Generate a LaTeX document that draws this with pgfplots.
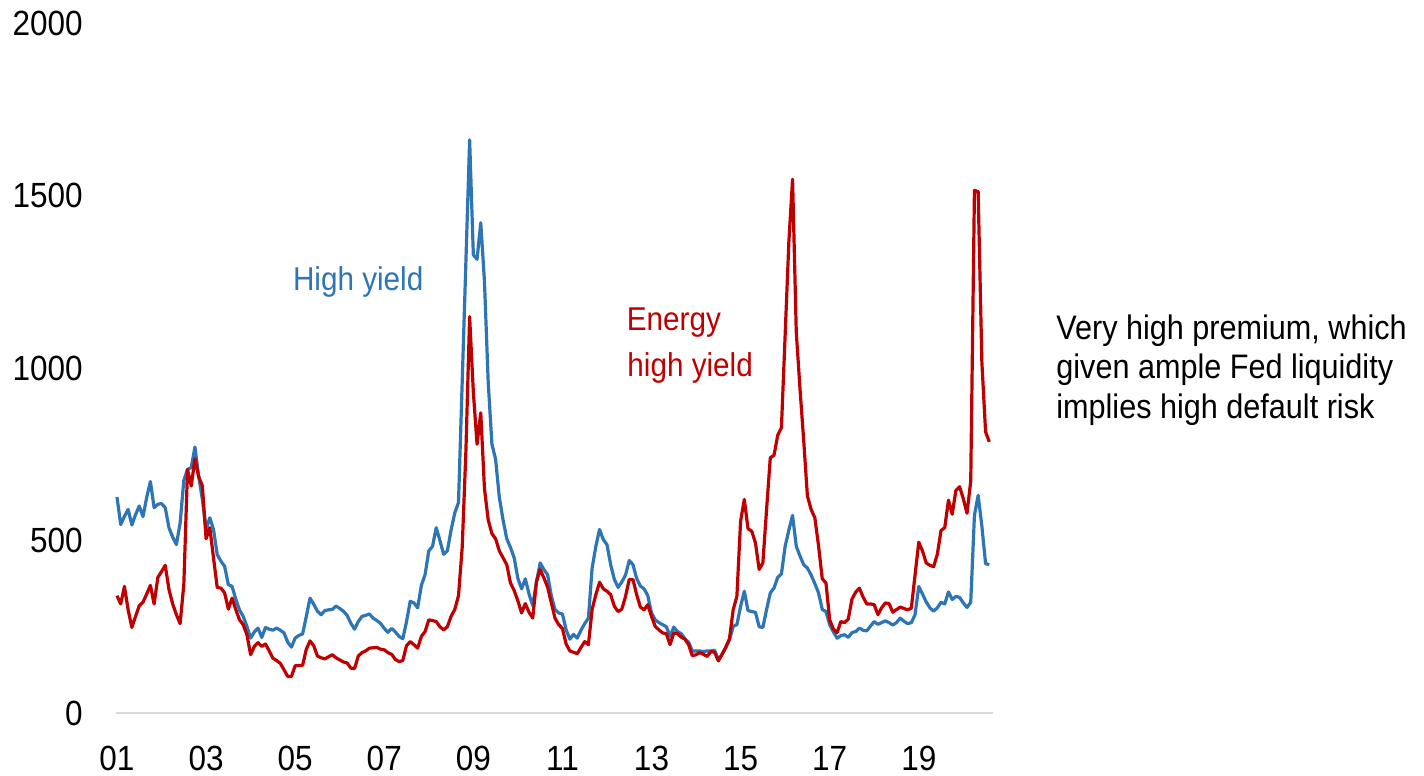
\documentclass[border=0pt]{standalone}
\usepackage{pgfplots}
\pgfplotsset{compat=1.18}
\usepackage{pgfplotstable}
\usepackage{fontspec}
\setmainfont{Liberation Sans}[FakeStretch=0.9]

\definecolor{hyblue}{RGB}{46,117,182}
\definecolor{enred}{RGB}{192,0,0}
\definecolor{axisgray}{RGB}{217,217,217}

% Monthly spreads (bp), month 0 = Jan 2001
% hy = high yield, ehy = energy high yield
\pgfplotstableread{
m hy ehy
0 626 340
1 546 316
2 570 367
3 590 299
4 545 248
5 575 280
6 600 311
7 569 321
8 625 345
9 671 370
10 595 316
11 605 393
12 607 410
13 595 428
14 537 358
15 510 316
16 488 285
17 550 259
18 674 372
19 706 706
20 711 658
21 771 737
22 687 685
23 619 658
24 532 505
25 566 537
26 532 450
27 459 364
28 440 362
29 425 348
30 372 301
31 367 333
32 330 300
33 299 270
34 280 256
35 251 227
36 217 169
37 235 193
38 246 204
39 219 193
40 248 200
41 243 180
42 240 159
43 246 152
44 240 144
45 232 125
46 205 106
47 191 106
48 217 137
49 225 138
50 229 138
51 280 185
52 333 209
53 315 195
54 295 165
55 285 160
56 297 157
57 299 163
58 300 169
59 310 160
60 303 154
61 295 148
62 283 145
63 260 130
64 243 129
65 265 165
66 280 175
67 283 180
68 287 188
69 275 189
70 268 190
71 260 185
72 245 183
73 234 175
74 245 170
75 235 155
76 222 149
77 215 152
78 265 195
79 324 207
80 319 198
81 305 188
82 370 222
83 401 236
84 470 270
85 483 268
86 537 265
87 500 250
88 460 241
89 470 250
90 530 280
91 580 300
92 610 340
93 960 480
94 1310 760
95 1661 1149
96 1328 930
97 1315 779
98 1421 870
99 1250 650
100 960 560
101 780 520
102 735 505
103 625 470
104 560 450
105 505 430
106 480 377
107 450 355
108 390 325
109 360 290
110 389 317
111 345 292
112 311 275
113 380 380
114 435 416
115 416 392
116 401 365
117 340 320
118 300 275
119 290 256
120 287 245
121 241 200
122 214 180
123 228 176
124 217 172
125 240 190
126 259 207
127 275 198
128 420 300
129 483 343
130 532 379
131 503 360
132 488 353
133 430 343
134 387 309
135 364 294
136 380 301
137 400 338
138 442 387
139 430 387
140 390 343
141 368 307
142 360 299
143 340 314
144 290 280
145 270 251
146 262 241
147 256 232
148 250 230
149 222 198
150 249 232
151 236 230
152 230 220
153 215 214
154 205 198
155 180 166
156 180 169
157 180 175
158 178 170
159 180 164
160 180 178
161 182 176
162 154 151
163 170 170
164 190 190
165 212 215
166 251 299
167 256 338
168 309 556
169 353 619
170 297 534
171 294 527
172 292 493
173 250 416
174 248 435
175 300 590
176 348 740
177 362 747
178 393 805
179 403 827
180 483 1095
181 530 1365
182 573 1547
183 483 1104
184 455 940
185 430 790
186 420 629
187 400 590
188 375 566
189 348 485
190 300 389
191 294 377
192 256 270
193 235 243
194 217 233
195 224 265
196 227 262
197 219 272
198 233 330
199 236 350
200 246 362
201 240 336
202 238 316
203 252 316
204 265 314
205 257 285
206 262 305
207 267 319
208 262 317
209 255 292
210 262 300
211 275 307
212 266 303
213 259 299
214 262 304
215 285 400
216 367 495
217 345 470
218 322 435
219 305 428
220 295 424
221 305 460
222 321 529
223 316 537
224 351 617
225 329 576
226 338 645
227 335 656
228 319 621
229 306 579
230 321 672
231 573 1515
232 631 1511
233 542 1017
234 433 815
235 430 786
}\spreads

\begin{document}
\begin{tikzpicture}
\path[use as bounding box] (-58pt,-31.5pt) rectangle (654pt,356.5pt);
\begin{axis}[
  at={(0,0)}, anchor=south west,
  scale only axis, width=438.5pt, height=345pt,
  xmin=-0.27, xmax=236, ymin=0, ymax=2000,
  axis x line*=bottom, axis y line*=left,
  y axis line style={draw=none},
  x axis line style={-, draw=axisgray, line width=1pt},
  major tick length=0pt,
  xtick={0,24,...,216},
  xticklabels={01,03,05,07,09,11,13,15,17,19},
  ytick={0,500,...,2000},
  tick label style={font=\fontsize{17.5}{21}\selectfont, text=black, inner sep=0pt},
  xticklabel style={anchor=north, yshift=-16.5pt},
  yticklabel style={anchor=east, xshift=-16.5pt},
  /pgf/number format/assume math mode=true,
  /pgf/number format/1000 sep={},
  clip=false,
]
\addplot[hyblue, line width=1.6pt, line join=round] table[x=m, y=hy] {\spreads};
\addplot[enred, line width=1.6pt, line join=round] table[x=m, y=ehy] {\spreads};
\end{axis}

\node[anchor=base west, inner sep=0pt, text=hyblue, font=\fontsize{16.5}{20}\selectfont] at (88.3pt,211pt) {High yield};
\node[anchor=base west, inner sep=0pt, text=enred, font=\fontsize{16.5}{20}\selectfont] at (255.2pt,191pt) {Energy};
\node[anchor=base west, inner sep=0pt, text=enred, font=\fontsize{16.5}{20}\selectfont] at (255.5pt,168.15pt) {high yield};
\node[anchor=base west, inner sep=0pt, text=black, font=\fontsize{17}{20}\selectfont] at (470pt,186.85pt) {Very high premium, which};
\node[anchor=base west, inner sep=0pt, text=black, font=\fontsize{17}{20}\selectfont] at (470pt,167.1pt) {given ample Fed liquidity};
\node[anchor=base west, inner sep=0pt, text=black, font=\fontsize{17}{20}\selectfont] at (470pt,147.35pt) {implies high default risk};
\end{tikzpicture}
\end{document}
